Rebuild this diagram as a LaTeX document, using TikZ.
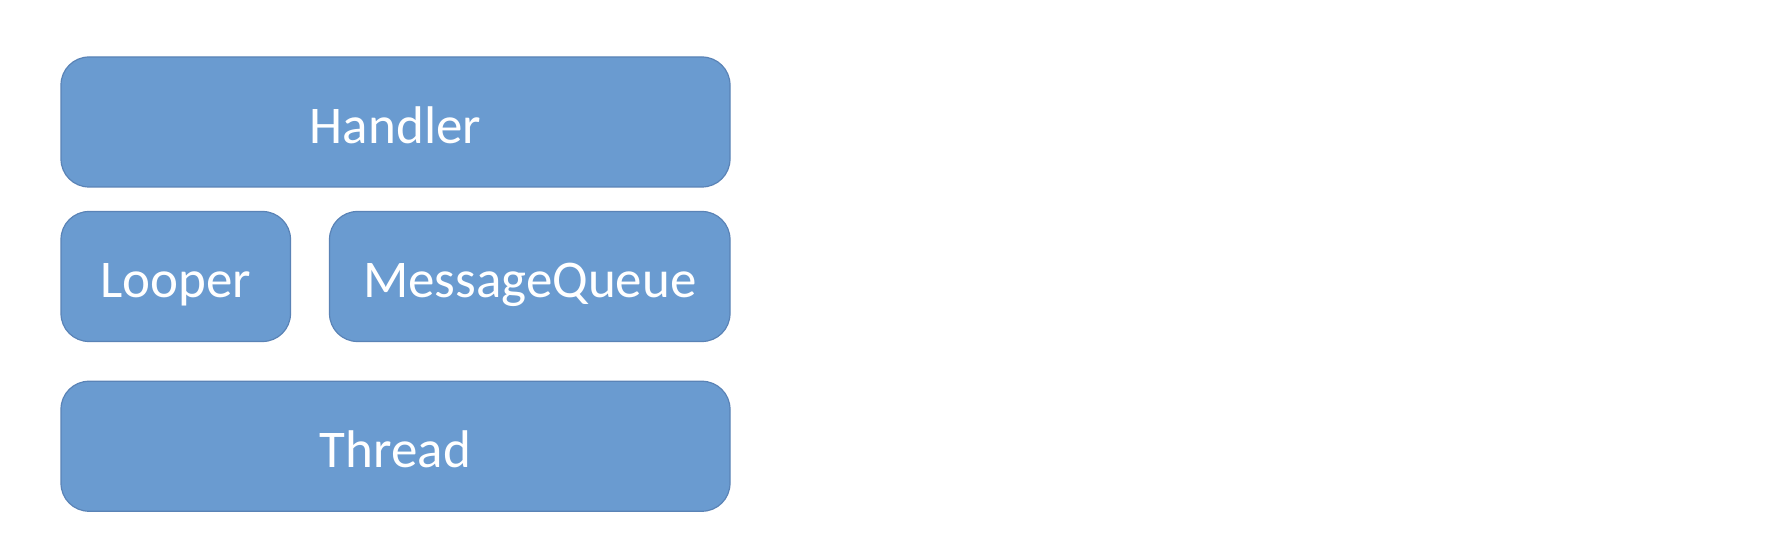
\documentclass[tikz,border=0pt]{standalone}
\usepackage{fontspec}
\setmainfont{Carlito}
\definecolor{boxfill}{HTML}{6A9BD0}
\definecolor{boxline}{HTML}{5A83B6}
\begin{document}
\begin{tikzpicture}[x=0.5pt,y=-0.5pt,
  blk/.style={draw=boxline, line width=0.6pt, fill=boxfill, rounded corners=14pt,
    text=white, inner sep=0pt, font=\fontsize{26.5}{30}\selectfont,
    text height=21.5pt, text depth=0pt, minimum height=65pt}]
\useasboundingbox (0,0) rectangle (1784,550);
\node[blk, minimum width=334.5pt] (handler) at (395.5,122) {Handler};
\node[blk, minimum width=114.75pt] (looper) at (175.75,276.5) {Looper};
\node[blk, minimum width=200.25pt] (mq) at (529.75,276.5) {MessageQueue};
\node[blk, minimum width=334.5pt] (thread) at (395.5,446.25) {Thread};
\end{tikzpicture}
\end{document}
